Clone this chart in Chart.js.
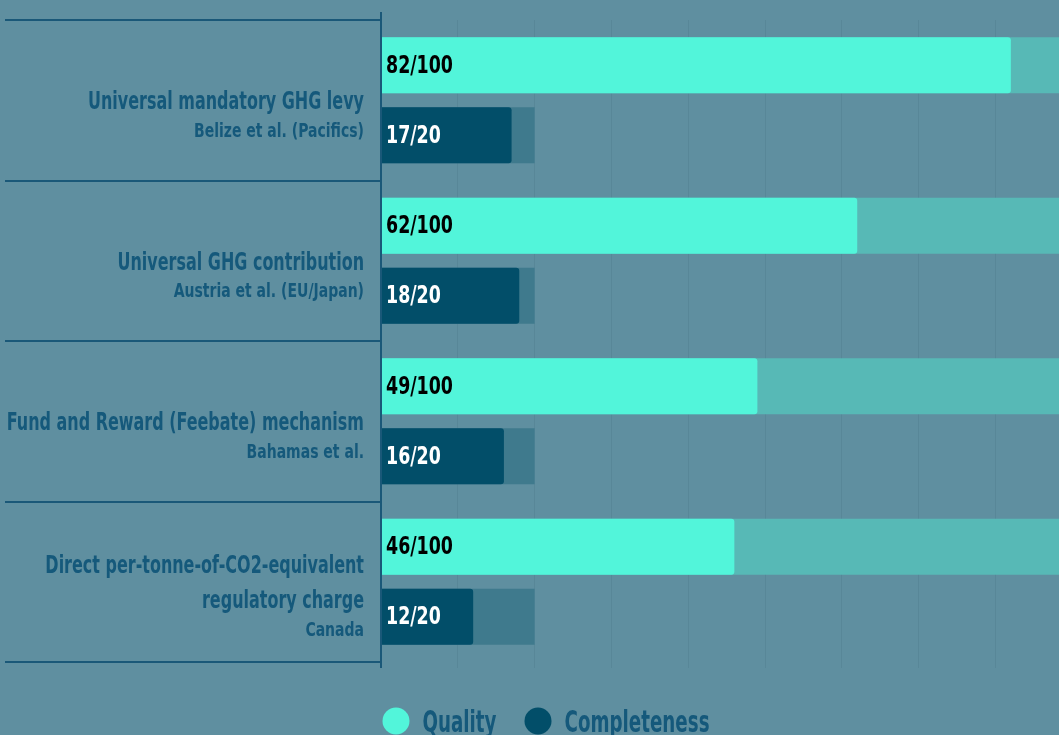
<!DOCTYPE html>
<html>
<head>
<meta charset="utf-8">
<script src="https://cdn.jsdelivr.net/npm/chart.js@4.4.1/dist/chart.umd.min.js"></script>
<style>
  html, body { margin: 0; padding: 0; background: #5f8fa0; overflow: hidden; }
  #wrap { position: relative; width: 1080px; height: 735px; }
</style>
</head>
<body>
<div id="wrap"><canvas id="scoreChart"></canvas></div>
<script>
// category names (big lines) and proposers (small line)
var categories = [
  ['Universal mandatory GHG levy'],
  ['Universal GHG contribution'],
  ['Fund and Reward (Feebate) mechanism'],
  ['Direct per-tonne-of-CO2-equivalent', 'regulatory charge']
];
var proposers = ['Belize et al. (Pacifics)', 'Austria et al. (EU/Japan)', 'Bahamas et al.', 'Canada'];

var quality = [82, 62, 49, 46];
var completeness = [17, 18, 16, 12];
var qualityMax = [100, 100, 100, 100];
var completenessMax = [20, 20, 20, 20];

var FONT = "'Liberation Sans Narrow', 'DejaVu Sans Condensed', 'Roboto', sans-serif";
var textColor = '#15597b';
var axisColor = '#1a5878';

// squashed text, to get close to the narrow face of the original
function narrowText(ctx, text, x, y, squash) {
  ctx.save();
  ctx.translate(x, y);
  ctx.scale(squash, 1);
  ctx.fillText(text, 0, 0);
  ctx.restore();
}

// draws the axis line, category labels, bar value labels and legend
var labelsPlugin = {
  id: 'labelsPlugin',
  afterDatasetsDraw: function(chart) {
    var ctx = chart.ctx;
    var area = chart.chartArea;
    var y = chart.scales.y;
    ctx.save();

    ctx.strokeStyle = axisColor;
    ctx.lineWidth = 2;
    ctx.beginPath();
    ctx.moveTo(area.left, area.top - 8);
    ctx.lineTo(area.left, area.bottom + 6);
    ctx.stroke();

    // category labels, right aligned
    var rightX = area.left - 17;
    ctx.fillStyle = textColor;
    ctx.textAlign = 'right';
    ctx.textBaseline = 'middle';
    ctx.font = 'bold 25px ' + FONT;
    var bigSquash = 276 / ctx.measureText('Universal mandatory GHG levy').width;
    ctx.font = 'bold 20px ' + FONT;
    var smallSquash = 170 / ctx.measureText('Belize et al. (Pacifics)').width;

    categories.forEach(function(lines, i) {
      var total = (lines.length - 1) * 35 + 29;
      var cy = y.getPixelForValue(i) + 17 - total / 2;
      ctx.font = 'bold 25px ' + FONT;
      lines.forEach(function(line, j) {
        narrowText(ctx, line, rightX, cy + j * 35, bigSquash);
      });
      ctx.font = 'bold 20px ' + FONT;
      narrowText(ctx, proposers[i], rightX, cy + (lines.length - 1) * 35 + 29, smallSquash);
    });

    // value labels inside the bars
    ctx.textAlign = 'left';
    ctx.font = 'bold 25px ' + FONT;
    var valSquash = 67 / ctx.measureText('82/100').width;
    [[0, quality, '/100', '#000000'], [1, completeness, '/20', '#ffffff']].forEach(function(s) {
      var meta = chart.getDatasetMeta(s[0]);
      meta.data.forEach(function(bar, i) {
        ctx.fillStyle = s[3];
        narrowText(ctx, s[1][i] + s[2], area.left + 5, bar.y + 1, valSquash);
      });
    });

    // legend: Quality and Completeness only
    ctx.font = 'bold 31px ' + FONT;
    var legSquash = 145 / ctx.measureText('Completeness').width;
    var items = [0, 1].map(function(di) {
      var ds = chart.data.datasets[di];
      return { text: ds.label, color: ds.backgroundColor, w: ctx.measureText(ds.label).width * legSquash };
    });
    var r = 13.5, gapText = 13, gapItem = 28;
    var totalW = 0;
    items.forEach(function(it, k) { totalW += 2 * r + gapText + it.w + (k ? gapItem : 0); });
    var lx = chart.width / 2 + 6 - totalW / 2;
    var ly = area.bottom + 59;
    items.forEach(function(it) {
      ctx.fillStyle = it.color;
      ctx.beginPath();
      ctx.arc(lx + r, ly, r, 0, Math.PI * 2);
      ctx.fill();
      ctx.fillStyle = textColor;
      narrowText(ctx, it.text, lx + 2 * r + gapText, ly + 3, legSquash);
      lx += 2 * r + gapText + it.w + gapItem;
    });
    ctx.restore();
  }
};

var ctx = document.getElementById('scoreChart').getContext('2d');
var scoreChart = new Chart(ctx, {
  type: 'bar',
  data: {
    labels: categories.map(function(c) { return c.join(' '); }),
    datasets: [{
        label: 'Quality',
        data: quality,
        stack: 'q',
        backgroundColor: '#52f5da',
        borderRadius: 3,
        borderSkipped: 'start'
      }, {
        label: 'Completeness',
        data: completeness,
        stack: 'c',
        backgroundColor: '#024e69',
        borderRadius: 3,
        borderSkipped: 'start'
      }, {
        label: 'Quality max',
        data: qualityMax,
        stack: 'q',
        backgroundColor: '#57b9b6'
      }, {
        label: 'Completeness max',
        data: completenessMax,
        stack: 'c',
        backgroundColor: '#3f7a8d'
      }
    ]
  },
  options: {
    indexAxis: 'y',
    responsive: true,
    maintainAspectRatio: false,
    animation: false,
    categoryPercentage: 0.872,
    barPercentage: 0.8,
    layout: { padding: { top: 20, left: 0, right: 0, bottom: 67 } },
    plugins: {
      tooltip: { enabled: false },
      legend: { display: false }
    },
    scales: {
      x: {
        stacked: false,
        min: 0,
        max: 91,
        afterFit: function(scale) { scale.height = 6; },
        ticks: { display: false, stepSize: 10 },
        border: { display: false },
        grid: { color: 'rgba(30, 70, 90, 0.10)', tickLength: 6 }
      },
      y: {
        stacked: true,
        afterFit: function(scale) { scale.width = 381; },
        ticks: { display: false },
        border: { display: false },
        grid: {
          offset: true,
          drawOnChartArea: false,
          tickLength: 376,
          color: axisColor,
          lineWidth: 2
        }
      }
    }
  },
  plugins: [labelsPlugin]
});
</script>
</body>
</html>
